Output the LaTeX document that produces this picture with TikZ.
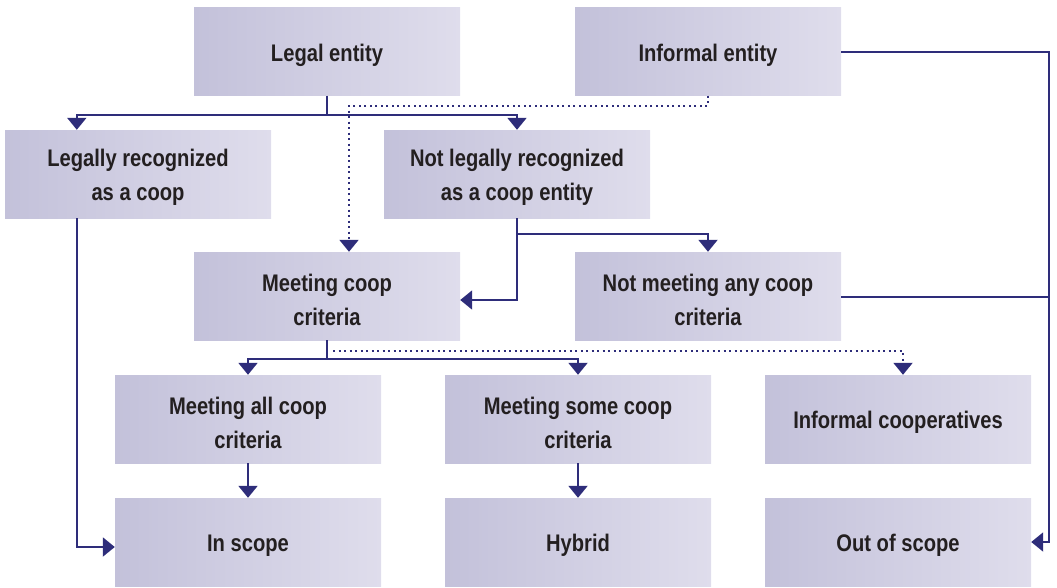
\documentclass[tikz,border=0pt]{standalone}
\usepackage{fontspec}
\setmainfont{Liberation Sans}[FakeStretch=0.84]
\usetikzlibrary{arrows.meta,calc}
\definecolor{boxL}{HTML}{C3C1DA}
\definecolor{boxR}{HTML}{DFDDEC}
\definecolor{navy}{HTML}{2E2D7A}
\definecolor{txt}{HTML}{231F20}
\tikzset{
  box/.style={left color=boxL, right color=boxR, draw=none, minimum width=266pt,
    minimum height=88pt, inner sep=0pt},
  btxt/.style={align=center, text=txt, inner sep=0pt, yshift=-3.5pt,
    font=\fontsize{24}{34}\selectfont\bfseries},
  link/.style={draw=navy, line width=2pt},
  tip/.style={-{Triangle[width=19pt,length=12pt]}},
  arr/.style={link, tip},
  dots/.style={dash pattern=on 2pt off 3.5pt}
}
\begin{document}
\begin{tikzpicture}[x=1pt,y=-1pt]
\useasboundingbox (0,0) rectangle (1057,587);
\node[box, label={[btxt]center:Legal entity}] (legal) at (327,51.5) {};
\node[box, label={[btxt]center:Informal entity}] (informal) at (708,51.5) {};
\node[box, label={[btxt]center:{Legally recognized\\as a coop}}] (legrec) at (138,174) {};
\node[box, label={[btxt]center:{Not legally recognized\\as a coop entity}}] (notleg) at (517,174) {};
\node[box, label={[btxt]center:{Meeting coop\\criteria}}] (meet) at (327,296) {};
\node[box, label={[btxt]center:{Not meeting any coop\\criteria}}] (notmeet) at (708,296) {};
\node[box, label={[btxt]center:{Meeting all coop\\criteria}}] (all) at (248,419) {};
\node[box, label={[btxt]center:{Meeting some coop\\criteria}}] (some) at (578,419) {};
\node[box, label={[btxt]center:Informal cooperatives}] (infcoop) at (898,419) {};
\node[box, label={[btxt]center:In scope}] (inscope) at (248,542) {};
\node[box, label={[btxt]center:Hybrid}] (hybrid) at (578,542) {};
\node[box, label={[btxt]center:Out of scope}] (outscope) at (898,542) {};
\coordinate (rail) at (1049,0);
% legal entity split
\draw[link] (legal.south) -- ++(0,19) coordinate (j1);
\draw[arr] (j1) -| ([xshift=72pt]legrec.north west);
\draw[arr] (j1) -| (notleg.north);
% informal entity dotted
\draw[link,dots,tip] (informal.south) -- ++(0,10) -| ([xshift=22pt]meet.north);
% legally recognized to in scope
\draw[arr] ([xshift=72pt]legrec.south west) |- ([yshift=-5pt]inscope.west);
% not legally recognized
\draw[arr] (notleg.south) |- ([yshift=-4pt]meet.east);
\draw[link] (notleg.south) -- ++(0,16) coordinate (j2);
\draw[arr] (j2) -| (notmeet.north);
% meeting coop criteria
\draw[link] (meet.south) -- ++(0,19) coordinate (j3);
\draw[arr] (j3) -| (all.north);
\draw[arr] (j3) -| (some.north);
\draw[link,dots,tip] ([xshift=6pt,yshift=-11pt]meet.south) -| ([xshift=5pt]infcoop.north);
% down arrows
\draw[arr] (all) -- (inscope);
\draw[arr] (some) -- (hybrid);
% right rail
\draw[arr] (informal.east) -- (informal.east -| rail) |- (outscope.east);
\draw[link] ([yshift=-1pt]notmeet.east) -- ([yshift=-1pt]notmeet.east -| rail);
\end{tikzpicture}
\end{document}
